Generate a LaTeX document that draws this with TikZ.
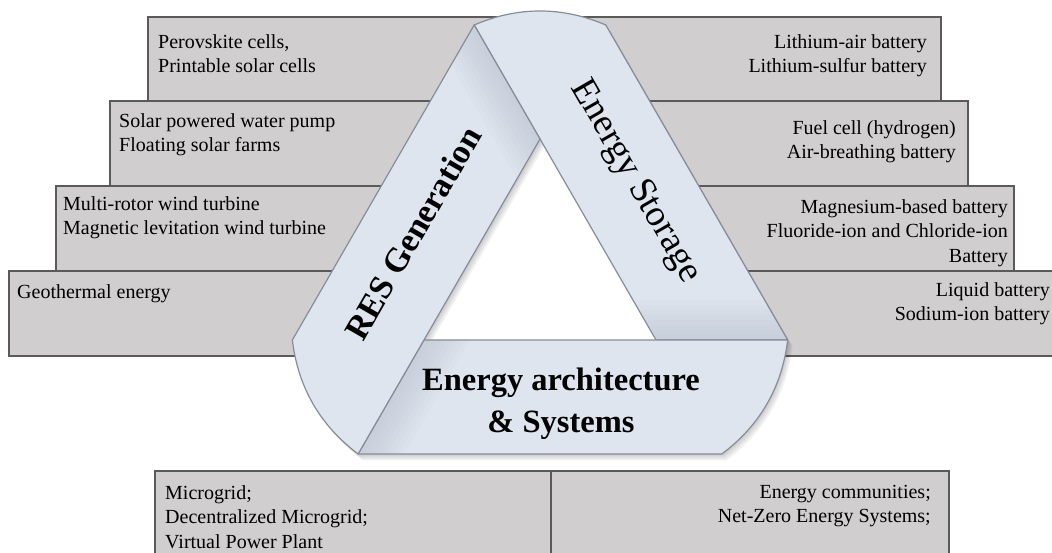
\documentclass[tikz,border=0pt]{standalone}
\usepackage{fontspec}
\setmainfont{Liberation Serif}
\definecolor{boxfill}{RGB}{208,206,207}
\definecolor{boxline}{RGB}{90,90,90}
\definecolor{bandfill}{RGB}{222,229,239}
\definecolor{bandlo}{RGB}{150,158,172}
\definecolor{bandline}{RGB}{135,141,152}
\tikzset{
  itembox/.style={fill=boxfill, draw=boxline, line width=1.3pt},
  itemtext/.style={inner sep=0pt, font=\fontsize{20}{24.5}\selectfont},
  ribbon path/.style={insert path={(116,-67) -- (0,134) -- (-65.8,248)
      .. controls (-22,266.7) and (22,266.7) .. (65.8,248)
      -- (247.7,-67) -- cycle}},
  ribbon/.pic={
    \fill[bandfill, ribbon path];
    \begin{scope}
      \clip[ribbon path];
      % darker where the ribbon folds
      \foreach \k in {1,...,8} {
          \fill[bandlo, opacity=0.035] (90,-67) rectangle (260,-67+5*\k);
        }
    \end{scope}
    \draw[bandline, line width=1.2pt, line join=round, ribbon path];
  },
  ribbonshadow/.pic={
    \fill[black, opacity=0.05, ribbon path];
  },
}
\begin{document}
\begin{tikzpicture}[x=1pt, y=1pt]
        \useasboundingbox (0,0) rectangle (1052,552);
        % boxes on the left
        \draw[itembox] (148,451) rectangle (540,535);
        \draw[itembox] (110,366) rectangle (540,451);
        \draw[itembox] (56,281) rectangle (540,366);
        \draw[itembox] (9,196) rectangle (540,281);
        % boxes on the right
        \draw[itembox] (540,451) rectangle (941,535);
        \draw[itembox] (540,366) rectangle (968,451);
        \draw[itembox] (540,281) rectangle (1014,366);
        \draw[itembox] (540,196) rectangle (1070,281);
        % boxes at the bottom
        \draw[itembox] (155,-10) rectangle (551,81);
        \draw[itembox] (551,-10) rectangle (949,81);
        % hole of the triangle
        \fill[white, shift={(540,279)}] (90:134) -- (210:134) -- (330:134) -- cycle;
        \foreach \s in {1,...,4} {
                \foreach \a in {0,240,120} {
                        \pic[rotate=\a] at (540+1.2*\s,279-1.6*\s) {ribbonshadow};
                    }
            }
        \foreach \a in {0,240,120} {
                \pic[rotate=\a] at (540,279) {ribbon};
            }
        \node[itemtext, anchor=north west, align=left] (perovskite) at (158,518) {Perovskite cells,\\Printable solar cells};
        \node[itemtext, anchor=north west, align=left] (pump) at (119,439) {Solar powered water pump\\Floating solar farms};
        \node[itemtext, anchor=north west, align=left] (wind) at (63,356) {Multi-rotor wind turbine\\Magnetic levitation wind turbine};
        \node[itemtext, anchor=north west, align=left] (geo) at (17,268) {Geothermal energy};
        \node[itemtext, anchor=north east, align=right] (lithium) at (927,518) {Lithium-air battery\\Lithium-sulfur battery};
        \node[itemtext, anchor=north east, align=right] (fuel) at (956,432) {Fuel cell (hydrogen)\\Air-breathing battery};
        \node[itemtext, anchor=north east, align=right] (magnesium) at (1008,353) {Magnesium-based battery\\Fluoride-ion and Chloride-ion\\Battery};
        \node[itemtext, anchor=north east, align=right] (liquid) at (1050,270) {Liquid battery\\Sodium-ion battery};
        \node[itemtext, anchor=north west, align=left] (grid) at (165,67) {Microgrid;\\Decentralized Microgrid;\\Virtual Power Plant};
        \node[itemtext, anchor=north east, align=right] (community) at (931,67) {Energy communities;\\Net-Zero Energy Systems;};
        % ribbon titles
        \node[rotate=60, font=\fontsize{34}{40}\selectfont\bfseries] (res) at (413,319) {RES Generation};
        \node[rotate=-60, font=\fontsize{37}{42}\selectfont] (storage) at (635,370) {Energy Storage};
        \node[align=center, font=\fontsize{32.5}{42}\selectfont\bfseries] (arch) at (561,148) {Energy architecture\\\& Systems};
    \end{tikzpicture}
\end{document}
